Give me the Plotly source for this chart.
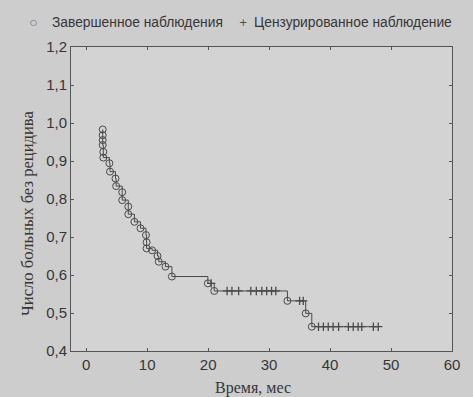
import plotly.graph_objects as go

# Completed observations (events): time, survival after event
event_t = [2.7, 2.7, 2.7, 2.7, 2.8, 2.8, 3.8, 3.9, 4.8, 4.9, 5.9, 5.9, 6.9, 6.9,
           7.9, 8.9, 9.8, 9.9, 9.9, 10.8, 11.7, 11.9, 13.0, 14.05,
           19.95, 21.0, 33.0, 36.0, 37.0]
event_s = [0.983, 0.968, 0.955, 0.942, 0.924, 0.909, 0.894, 0.872, 0.854, 0.834,
           0.818, 0.797, 0.780, 0.760, 0.740, 0.723, 0.705, 0.686, 0.670, 0.665,
           0.650, 0.635, 0.622, 0.596,
           0.578, 0.558, 0.532, 0.499, 0.464]

# Censored observations: time, survival level
cens_t = [20.5, 23.1, 23.9, 25.0, 27.0, 27.9, 28.8, 29.6, 30.4, 31.1,
          35.0, 35.6,
          38.1, 38.9, 39.7, 40.5, 41.4, 43.0, 43.8, 44.6, 45.2, 47.1, 47.9]
cens_s = [0.578, 0.558, 0.558, 0.558, 0.558, 0.558, 0.558, 0.558, 0.558, 0.558,
          0.532, 0.532,
          0.464, 0.464, 0.464, 0.464, 0.464, 0.464, 0.464, 0.464, 0.464, 0.464, 0.464]

x_ticks = [0, 10, 20, 30, 40, 50, 60]
y_ticks = [0.4, 0.5, 0.6, 0.7, 0.8, 0.9, 1.0, 1.1, 1.2]

legend_names = ["Завершенное наблюдения", "Цензурированное наблюдение"]
x_title = "Время, мес"
y_title = "Число больных без рецидива"

# combined step curve
pts = sorted(list(zip(event_t, event_s)) + list(zip(cens_t, cens_s)), key=lambda p: (p[0], -p[1]))
line_x = [p[0] for p in pts]
line_y = [p[1] for p in pts]

ink = "#4a4a4a"
txt = "#363636"
sans = "Liberation Sans, Arial, sans-serif"
serif = "Liberation Serif, Times New Roman, serif"

fig = go.Figure()
fig.add_trace(go.Scatter(x=line_x, y=line_y, mode="lines", line=dict(color=ink, width=1, shape="hv"),
                         showlegend=False, hoverinfo="skip"))
fig.add_trace(go.Scatter(x=event_t, y=event_s, mode="markers", name=legend_names[0], showlegend=False,
                         marker=dict(symbol="circle-open", size=7, color=ink, line=dict(width=1, color=ink))))
fig.add_trace(go.Scatter(x=cens_t, y=cens_s, mode="markers", name=legend_names[1], showlegend=False,
                         marker=dict(symbol="cross-thin-open", size=6, color=ink, line=dict(width=1.3, color=ink))))

# legend row drawn as text above the plot
leg_y = 1.082
annotations = [
    dict(text="○", x=-0.0997, xanchor="center", font=dict(size=8, color=ink, family="DejaVu Sans")),
    dict(text=legend_names[0], x=-0.0551, xanchor="left", font=dict(size=13.8, color=txt, family=sans)),
    dict(text="+", x=0.4514, xanchor="center", font=dict(size=10, color=ink, family="DejaVu Sans")),
    dict(text=legend_names[1], x=0.4751, xanchor="left", font=dict(size=13.8, color=txt, family=sans)),
]
for a in annotations:
    a.update(y=leg_y, yanchor="middle")
# axis titles
annotations.append(dict(text=x_title, x=0.478, y=-0.122, xanchor="center", yanchor="middle",
                        font=dict(family=serif, size=16, color=txt)))
annotations.append(dict(text=y_title, x=-0.1129, y=0.454, xanchor="center", yanchor="middle",
                        textangle=-90, font=dict(family=serif, size=16.6, color=txt)))
for a in annotations:
    a.update(xref="paper", yref="paper", showarrow=False)

fig.update_layout(
    width=473, height=397,
    margin=dict(l=71, r=21, t=47, b=46, autoexpand=False),
    paper_bgcolor="#cdcdcd", plot_bgcolor="#d3d3d3",
    separators=", ",
    font=dict(family=sans, size=15, color=txt),
    showlegend=False,
    annotations=annotations,
    xaxis=dict(range=[-2.5, 60], tickvals=x_ticks, ticks="inside", ticklen=3, mirror="ticks",
               showline=True, linecolor="#555", linewidth=1, showgrid=False, zeroline=False,
               tickcolor="#555", automargin=False),
    yaxis=dict(range=[0.4, 1.2], tickvals=y_ticks, tickformat=".1f", ticks="inside", ticklen=3,
               mirror="ticks", showline=True, linecolor="#555", linewidth=1, showgrid=False,
               zeroline=False, tickcolor="#555", automargin=False),
)

fig.write_html("out.html", config={"displayModeBar": False},
               post_script="document.body.style.margin='0';document.body.style.padding='0';document.body.style.background='#cdcdcd';")
